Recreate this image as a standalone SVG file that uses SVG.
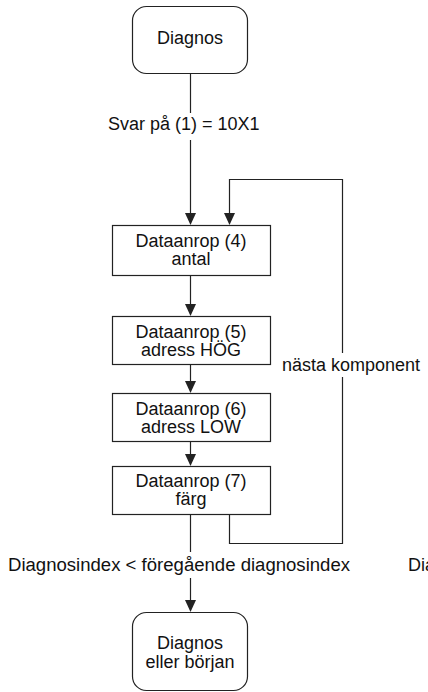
<svg xmlns="http://www.w3.org/2000/svg" width="428" height="692" viewBox="0 0 428 692">
<style>
.n{fill:#fff;stroke:#222;stroke-width:1.2}
.t{font-family:"Liberation Sans",Arial,sans-serif;font-size:18px;fill:#111}
.m{text-anchor:middle}
.c{fill:none;stroke:#222;stroke-width:1.2}
.h{fill:#222}
</style>
<rect width="428" height="692" fill="#fff"/>
<g id="connectors">
<path class="c" d="M190.5,73 V113"/>
<path class="c" d="M190.5,140 V213"/>
<path class="h" d="M185,213 L196,213 L190.5,225 Z"/>
<path class="c" d="M190.5,275 V304"/>
<path class="h" d="M185,304 L196,304 L190.5,316 Z"/>
<path class="c" d="M190.5,364 V381"/>
<path class="h" d="M185,381 L196,381 L190.5,393 Z"/>
<path class="c" d="M190.5,441 V454"/>
<path class="h" d="M185,454 L196,454 L190.5,466 Z"/>
<path class="c" d="M190.5,514 V552"/>
<path class="c" d="M190.5,578 V600"/>
<path class="h" d="M185,600 L196,600 L190.5,612 Z"/>
<path class="c" d="M229.5,514 V543.5 H342.5 V377"/>
<path class="c" d="M342.5,353 V179.5 H229.5 V213"/>
<path class="h" d="M224,213 L235,213 L229.5,225 Z"/>
<text class="t" x="108" y="130">Svar på (1) = 10X1</text>
<text class="t" x="282" y="371">nästa komponent</text>
<text class="t" x="8" y="571" textLength="342" lengthAdjust="spacingAndGlyphs">Diagnosindex &lt; föregående diagnosindex</text>
<text class="t" x="408" y="571">Dia</text>
</g>
<g id="start">
<rect class="n" x="132.5" y="6.5" width="115" height="67" rx="14"/>
<text class="t m" x="190" y="44">Diagnos</text>
</g>
<g id="n4">
<rect class="n" x="112.5" y="225.5" width="158" height="50"/>
<text class="t m" x="191" y="247">Dataanrop (4)</text>
<text class="t m" x="191" y="265">antal</text>
</g>
<g id="n5">
<rect class="n" x="112.5" y="316.5" width="158" height="48"/>
<text class="t m" x="191" y="338">Dataanrop (5)</text>
<text class="t m" x="191" y="356">adress HÖG</text>
</g>
<g id="n6">
<rect class="n" x="112.5" y="393.5" width="158" height="48"/>
<text class="t m" x="191" y="415">Dataanrop (6)</text>
<text class="t m" x="191" y="433">adress LOW</text>
</g>
<g id="n7">
<rect class="n" x="112.5" y="466.5" width="158" height="48"/>
<text class="t m" x="191" y="487">Dataanrop (7)</text>
<text class="t m" x="191" y="505">färg</text>
</g>
<g id="end">
<rect class="n" x="132.5" y="612.5" width="115" height="78" rx="14"/>
<text class="t m" x="190" y="649">Diagnos</text>
<text class="t m" x="190" y="668">eller början</text>
</g>
</svg>
